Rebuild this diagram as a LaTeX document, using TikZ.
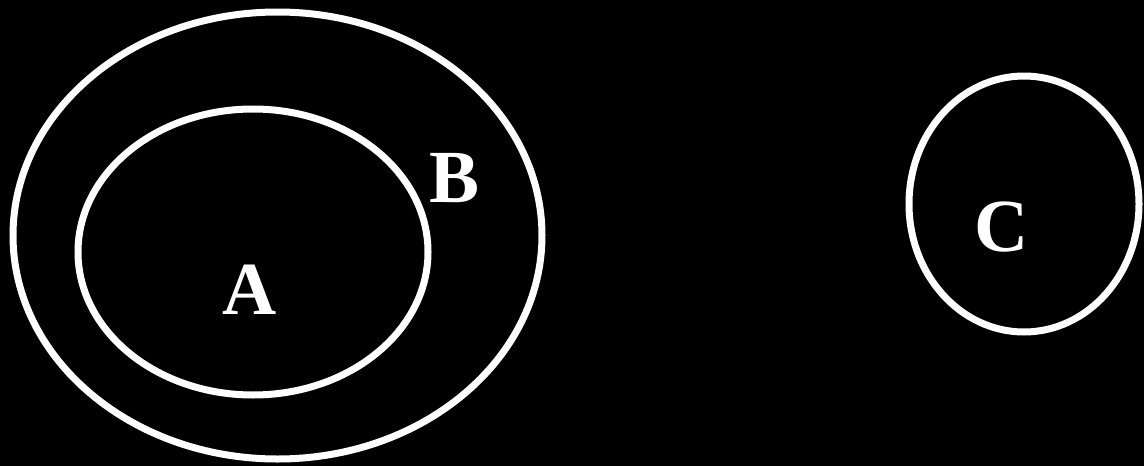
\documentclass[tikz,border=0pt]{standalone}
\usepackage{fontspec}
\setmainfont{Liberation Serif}
\usetikzlibrary{shapes.geometric}

\tikzset{
  setring/.style={ellipse, draw=white, line width=7pt, inner sep=0pt},
  setname/.style={text=white, inner sep=0pt, font=\fontsize{75}{80}\selectfont\bfseries}
}

\begin{document}
\begin{tikzpicture}[x=1pt, y=-1pt]
  \fill[black] (0,0) rectangle (1144,466);
  \useasboundingbox (0,0) rectangle (1144,466);
  % Sets
  \node[setring, minimum width=529pt, minimum height=447pt] (setB) at (277.5,235.5) {};
  \node[setring, minimum width=350pt, minimum height=286pt] (setA) at (253,252) {};
  \node[setring, minimum width=230pt, minimum height=256pt] (setC) at (1024,204) {};
  % Labels
  \node[setname] (labA) at (250,290) {A};
  \node[setname] (labB) at (455,178) {B};
  \node[setname] (labC) at (1002,227) {C};
\end{tikzpicture}
\end{document}
